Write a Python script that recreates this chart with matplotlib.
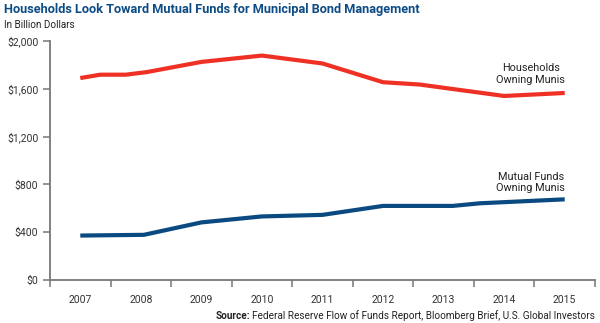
import matplotlib.pyplot as plt

years = [2007, 2008, 2009, 2010, 2011, 2012, 2013, 2014, 2015]

# households owning munis ($bn)
hh_x = [2007, 2007.33, 2007.75, 2008.1, 2009, 2010, 2011, 2012, 2012.6, 2014, 2015]
hh_y = [1690, 1718, 1718, 1740, 1825, 1878, 1812, 1655, 1636, 1540, 1565]

# mutual funds owning munis ($bn)
mf_x = [2007, 2008.05, 2009, 2010, 2011, 2012, 2013.15, 2013.6, 2015]
mf_y = [372, 378, 482, 532, 545, 620, 620, 642, 675]

yticks = [0, 400, 800, 1200, 1600, 2000]

RED = "#ee3124"
BLUE = "#0b4a80"
GREY = "#777777"
FONT = ["Liberation Sans Narrow", "Roboto", "DejaVu Sans"]
plt.rcParams["font.family"] = FONT

fig = plt.figure(figsize=(6.0, 3.23), dpi=100)
ax = fig.add_axes([50/600, 1-280/323, 545/600, 239/323])

ax.plot(hh_x, hh_y, color=RED, lw=3, solid_capstyle="butt")
ax.plot(mf_x, mf_y, color=BLUE, lw=3, solid_capstyle="butt")

ax.set_xlim(2006.5, 2015.5)
ax.set_ylim(0, 2000)
for s in ["top", "right"]:
    ax.spines[s].set_visible(False)
for s in ["left", "bottom"]:
    ax.spines[s].set_color(GREY)
    ax.spines[s].set_linewidth(1.3)

ax.set_yticks(yticks)
ax.set_yticklabels([f"${v:,}" for v in yticks])
ax.set_xticks([y - 0.5 for y in years] + [2015.5])
ax.set_xticklabels([])
ax.set_xticks(years, minor=True)
ax.set_xticklabels([str(y) for y in years], minor=True)
ax.tick_params(axis="both", which="major", color=GREY, width=1.1, length=5,
               labelsize=7.5, labelcolor="#333333")
ax.tick_params(axis="x", which="minor", length=0, labelsize=7.5,
               labelcolor="#333333", pad=11)

ax.text(2014.44, 1725, "Households\nOwning Munis", ha="center", va="center",
        fontsize=7.8, color="#222222", linespacing=1.2)
ax.text(2014.44, 816, "Mutual Funds\nOwning Munis", ha="center", va="center",
        fontsize=7.8, color="#222222", linespacing=1.2)

fig.text(4/600, 1-3/323, "Households Look Toward Mutual Funds for Municipal Bond Management",
         ha="left", va="top", fontsize=9.2, fontweight="bold", color="#0e4c85")
fig.text(4/600, 1-25/323, "In Billion Dollars", ha="left", va="center",
         fontsize=7.1, color="#222222")

src = fig.text(595/600, 1-316/323,
               "Federal Reserve Flow of Funds Report, Bloomberg Brief, U.S. Global Investors",
               ha="right", va="center", fontsize=7.2, color="#222222")
fig.canvas.draw()
bb = src.get_window_extent()
fig.text(bb.x0/600 - 2/600, 1-316/323, "Source:", ha="right", va="center",
         fontsize=7.2, fontweight="bold", color="#222222")

fig.savefig("out.png", dpi=100)
